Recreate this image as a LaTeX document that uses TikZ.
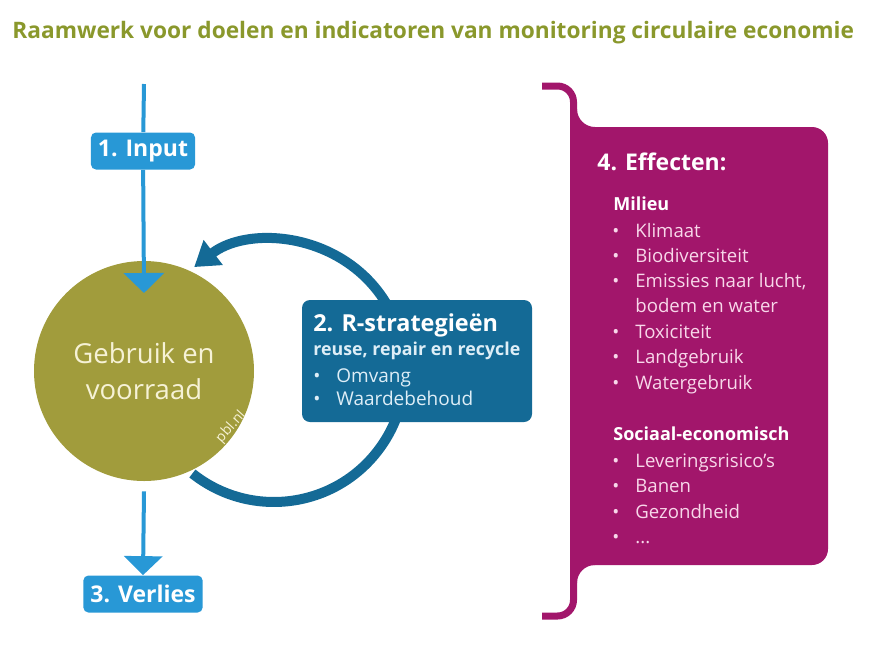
\documentclass[tikz,border=0pt]{standalone}
\usepackage{fontspec}
\setmainfont{Open Sans}
\usetikzlibrary{arrows.meta,positioning}
\definecolor{pbltitle}{RGB}{138,152,44}
\definecolor{pblolive}{RGB}{161,156,60}
\definecolor{pbllight}{RGB}{40,152,214}
\definecolor{pbldark}{RGB}{20,106,150}
\definecolor{pblmagenta}{RGB}{162,22,107}
\definecolor{pblpink}{RGB}{248,216,234}
\definecolor{pblcream}{RGB}{246,242,214}
\definecolor{pblice}{RGB}{222,238,247}
\newcommand{\blt}{\makebox[23pt][l]{•}}

\tikzset{every picture/.style={line width=0.75pt}}
\tikzset{
  iobox/.style={fill=pbllight,text=white,rounded corners=5,inner xsep=7,minimum height=37,font=\bfseries\fontsize{23}{26}\selectfont},
  flowline/.style={draw=pbllight,line width=4},
  magtext/.style={anchor=base west,inner sep=0,text=pblpink,font=\fontsize{18.6}{22}\selectfont},
  maghead/.style={anchor=base west,inner sep=0,text=white,font=\bfseries\fontsize{18}{22}\selectfont},
  rtext/.style={anchor=base west,inner sep=0,text=pblice,font=\fontsize{19}{22}\selectfont}
}

\begin{document}
\begin{tikzpicture}[x=1pt,y=1pt,yscale=-1,xscale=1]
\useasboundingbox (0,0) rectangle (896,649);

% Text Node
\node (title) at (12,38) [anchor=base west,inner sep=0,text=pbltitle,font=\bfseries\fontsize{22.7}{26}\selectfont] {Raamwerk voor doelen en indicatoren van monitoring circulaire economie};

%Shape: Circle [stock]
\node (stock) at (144,371) [circle,fill=pblolive,minimum size=220,inner sep=0,text=pblcream,align=center,font=\fontsize{27.5}{36}\selectfont] {Gebruik en\\voorraad};
% Text Node
\node (pbl) at (231,427) [rotate=48,inner sep=0,text=pblcream,font=\fontsize{14}{16}\selectfont] {pbl.nl};

%Loop arc
\coordinate (loopstart) at (192.4,473.5);
\draw [draw=pbldark,line width=10,-{Triangle[width=30,length=24]}] (loopstart) arc[start angle=128.5,end angle=-127.5,radius=131];

%Shape: Rectangle [rstrat]
\fill [pbldark,rounded corners=8] (302,300) rectangle (532,422);
\coordinate (rstrat) at (302,300);
% Text Node
\node (rhead) at (313,331) [anchor=base west,inner sep=0,text=white,font=\bfseries\fontsize{23.4}{26}\selectfont] {2. R-strategieën};
% Text Node
\node (rsub) at (313,355) [anchor=base west,inner sep=0,text=pblice,font=\bfseries\fontsize{17.8}{20}\selectfont] {reuse, repair en recycle};
% Text Node
\node (omvang) at (313,382) [rtext] {\blt Omvang};
% Text Node
\node (waarde) at (313,405) [rtext] {\blt Waardebehoud};

%Input and loss
\coordinate (intop) at (144,84);
\coordinate (intip) at (144,293);
\node (input) at (143,151) [iobox] {1. Input};
\node (loss) at (143,594) [iobox] {3. Verlies};
\draw [flowline] (intop) -- (input);
\draw [flowline,-{Triangle[width=40,length=20]}] (input) -- (intip);
\draw [flowline,-{Triangle[width=38,length=19]}] ([yshift=10]stock.south) -- (loss.north);

%Shape: Bracket [effects]
\draw [draw=pblmagenta,line width=7,rounded corners=16] (542,86) -- (573.5,86) -- (573.5,616) -- (542,616);
\fill [pblmagenta] (570,127) [rounded corners=16] -- (828,127) -- (828,565) [sharp corners] -- (570,565) -- cycle;
\fill [pblmagenta] (577,109) arc[start angle=180,end angle=90,radius=18] -- (577,127) -- cycle;
\fill [pblmagenta] (577,583) arc[start angle=180,end angle=270,radius=18] -- (577,565) -- cycle;
\coordinate (effects) at (570,127);

% Text Node
\node (effhead) at (597,170) [anchor=base west,inner sep=0,text=white,font=\bfseries\fontsize{23}{26}\selectfont] {4. Effecten:};
% Text Node
\node (milieu) at (613,210) [maghead] {Milieu};
% Text Node
\node (klimaat) at (612,237) [magtext] {\blt Klimaat};
% Text Node
\node (biodiv) at (612,262) [magtext] {\blt Biodiversiteit};
% Text Node
\node (emissies) at (612,287) [magtext] {\blt Emissies naar lucht,};
% Text Node
\node (bodem) at (612,312) [magtext] {\makebox[23pt]{}bodem en water};
% Text Node
\node (toxic) at (612,338) [magtext] {\blt Toxiciteit};
% Text Node
\node (land) at (612,363) [magtext] {\blt Landgebruik};
% Text Node
\node (water) at (612,389) [magtext] {\blt Watergebruik};
% Text Node
\node (sociaal) at (613,440) [maghead] {Sociaal-economisch};
% Text Node
\node (levering) at (612,467) [magtext] {\blt Leveringsrisico’s};
% Text Node
\node (banen) at (612,492) [magtext] {\blt Banen};
% Text Node
\node (gezond) at (612,518) [magtext] {\blt Gezondheid};
% Text Node
\node (etc) at (612,543) [magtext] {\blt ...};

\end{tikzpicture}
\end{document}
